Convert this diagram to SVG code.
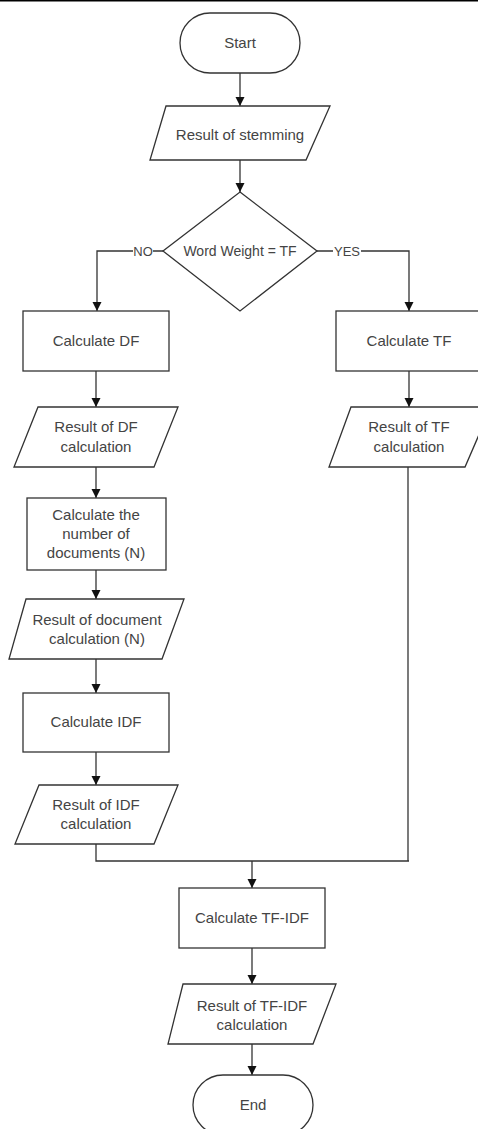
<svg xmlns="http://www.w3.org/2000/svg" width="478" height="1129" viewBox="0 0 478 1129">
<style>
.s{fill:#fff;stroke:#333;stroke-width:1.3}
.t{font-family:"Liberation Sans",Arial,sans-serif;font-size:15px;fill:#444;text-anchor:middle}
.c{fill:none;stroke:#333;stroke-width:1.3}
.l{font-family:"Liberation Sans",Arial,sans-serif;font-size:13px;fill:#444;text-anchor:middle}
</style>
<defs>
<marker id="a" markerUnits="userSpaceOnUse" markerWidth="10" markerHeight="10" refX="9" refY="4.5" orient="auto">
<path d="M0,0 L9,4.5 L0,9 z" fill="#111"/>
</marker>
</defs>
<rect width="478" height="1129" fill="#fff"/>
<rect x="0" y="0" width="478" height="1.5" fill="#000"/>
<g id="connectors">
<path class="c" d="M240,73 V106" marker-end="url(#a)"/>
<path class="c" d="M240,160 V192" marker-end="url(#a)"/>
<path class="c" d="M163,251 H97 V311" marker-end="url(#a)"/>
<path class="c" d="M317,251 H409 V311" marker-end="url(#a)"/>
<path class="c" d="M96,371 V407" marker-end="url(#a)"/>
<path class="c" d="M96,467 V498" marker-end="url(#a)"/>
<path class="c" d="M96,570 V599" marker-end="url(#a)"/>
<path class="c" d="M96,659 V693" marker-end="url(#a)"/>
<path class="c" d="M96,752 V785" marker-end="url(#a)"/>
<path class="c" d="M96,844 V861 H409"/>
<path class="c" d="M409,371 V407" marker-end="url(#a)"/>
<path class="c" d="M408,467 V861"/>
<path class="c" d="M252,861 V888" marker-end="url(#a)"/>
<path class="c" d="M252,948 V984" marker-end="url(#a)"/>
<path class="c" d="M252,1044 V1075" marker-end="url(#a)"/>
<rect x="133" y="243" width="20" height="16" fill="#fff"/>
<text class="l" x="143" y="256">NO</text>
<rect x="333" y="243" width="28" height="16" fill="#fff"/>
<text class="l" x="347" y="256">YES</text>
</g>
<g id="start">
<rect class="s" x="180" y="13" width="120" height="60" rx="30"/>
<text class="t" x="240" y="48">Start</text>
</g>
<g id="stemming">
<polygon class="s" points="166,106 330,106 306,160 150,160"/>
<text class="t" x="240" y="140">Result of stemming</text>
</g>
<g id="decision">
<polygon class="s" points="240,192 317,251 240,311 163,251"/>
<text class="t" x="240" y="256" style="font-size:14px">Word Weight = TF</text>
</g>
<g id="calc-df">
<rect class="s" x="23" y="311" width="146" height="60"/>
<text class="t" x="96" y="346">Calculate DF</text>
</g>
<g id="calc-tf">
<rect class="s" x="336" y="311" width="146" height="60"/>
<text class="t" x="409" y="346">Calculate TF</text>
</g>
<g id="res-df">
<polygon class="s" points="38,407 178,407 154,467 14,467"/>
<text class="t" x="96" y="432">Result of DF</text>
<text class="t" x="96" y="452">calculation</text>
</g>
<g id="res-tf">
<polygon class="s" points="351,407 491,407 465,467 329,467"/>
<text class="t" x="409" y="432">Result of TF</text>
<text class="t" x="409" y="452">calculation</text>
</g>
<g id="calc-n">
<rect class="s" x="27" y="498" width="139" height="72"/>
<text class="t" x="96" y="520">Calculate the</text>
<text class="t" x="96" y="539">number of</text>
<text class="t" x="96" y="558">documents (N)</text>
</g>
<g id="res-n">
<polygon class="s" points="26,599 184,599 162,659 9,659"/>
<text class="t" x="97" y="625">Result of document</text>
<text class="t" x="97" y="644">calculation (N)</text>
</g>
<g id="calc-idf">
<rect class="s" x="23" y="693" width="146" height="59"/>
<text class="t" x="96" y="727">Calculate IDF</text>
</g>
<g id="res-idf">
<polygon class="s" points="39,785 178,785 154,844 15,844"/>
<text class="t" x="96" y="810">Result of IDF</text>
<text class="t" x="96" y="829">calculation</text>
</g>
<g id="calc-tfidf">
<rect class="s" x="179" y="888" width="146" height="60"/>
<text class="t" x="252" y="923">Calculate TF-IDF</text>
</g>
<g id="res-tfidf">
<polygon class="s" points="183,984 336,984 313,1044 168,1044"/>
<text class="t" x="252" y="1011">Result of TF-IDF</text>
<text class="t" x="252" y="1030">calculation</text>
</g>
<g id="end">
<rect class="s" x="193" y="1075" width="120" height="60" rx="30"/>
<text class="t" x="253" y="1110">End</text>
</g>
</svg>
